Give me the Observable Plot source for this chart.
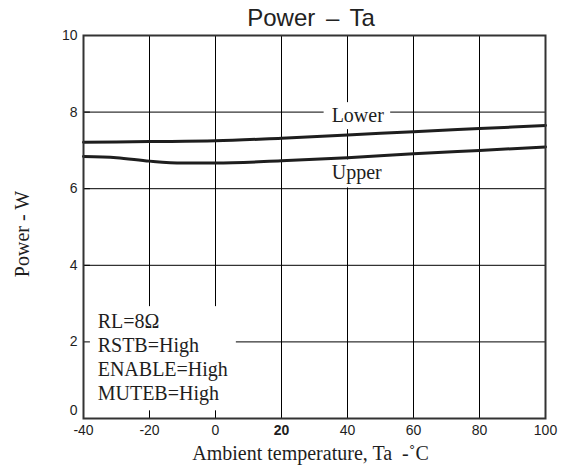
<!DOCTYPE html>
<html><head><meta charset="utf-8">
<script src="https://cdn.jsdelivr.net/npm/d3@7"></script>
<script src="https://cdn.jsdelivr.net/npm/@observablehq/plot@0.6"></script>
<style>
body{margin:0;background:#fff;}
#title{font-family:"Liberation Sans",Arial,sans-serif;font-size:24px;height:27px;line-height:26px;padding-top:5px;padding-left:55px;width:567px;box-sizing:border-box;text-align:center;color:#222;white-space:pre;word-spacing:4px;}
</style>
</head><body>
<div id="title">Power – Ta</div>
<div id="chart"></div>
<script>
const tempTicks = [-40,-20,0,20,40,60,80,100];
const powerTicks = [0,2,4,6,8,10];
const gridX = [-20,0,20,40,60,80];
const gridY = [2,4,6,8];
const lowerT = [-40,-20,0,20,40,60,80,100];
const lowerP = [7.21,7.23,7.25,7.32,7.40,7.49,7.57,7.65];
const upperT = [-40,-30,-20,-10,0,20,40,60,80,100];
const upperP = [6.84,6.81,6.72,6.67,6.67,6.73,6.81,6.91,7.00,7.09];
const curveLabels = ["Lower","Upper"];
const curveLabelT = [43.1,42.8];
const curveLabelP = [7.905,6.41];
const conditions = ["RL=8Ω","RSTB=High","ENABLE=High","MUTEB=High"];
const conditionT = -35.7;
const conditionP = 1.62;
const xLabel = "Ambient temperature, Ta\u00a0\u00a0-˚C";
const yLabel = "Power - W";

const lower = lowerT.map((t,i)=>({t, p: lowerP[i]}));
const upper = upperT.map((t,i)=>({t, p: upperP[i]}));
const lbls = curveLabels.map((s,i)=>({s, t: curveLabelT[i], p: curveLabelP[i]}));

const sans = "Liberation Sans, Arial, sans-serif";
const serif = "Liberation Serif, Times New Roman, serif";
const ink = "#1e1e1e";

const chart = Plot.plot({
  width: 567, height: 441,
  marginLeft: 83, marginRight: 22, marginTop: 8, marginBottom: 50,
  x: {domain: [-40,100]},
  y: {domain: [0,10]},
  style: {background: "white", color: ink},
  marks: [
    Plot.ruleX(gridX, {x: d=>d, stroke: "#000", strokeWidth: 1}),
    Plot.ruleY(gridY, {y: d=>d, stroke: "#000", strokeWidth: 1}),
    Plot.text(lbls, {x: "t", y: "p", text: "s", fontFamily: serif, fontSize: 20, fill: ink}),
    Plot.text([conditions.join("\n")], {x: conditionT, y: conditionP, text: d=>d, textAnchor: "start", lineHeight: 1.2, fontFamily: serif, fontSize: 20, fill: ink}),
    Plot.ruleX(tempTicks, {x: d=>d, y1: 0, y2: 0.2, stroke: "#000"}),
    Plot.ruleY(powerTicks, {y: d=>d, x1: -40, x2: -37.9, stroke: "#000"}),
    Plot.line(lower, {x: "t", y: "p", curve: "monotone-x", stroke: ink, strokeWidth: 3}),
    Plot.line(upper, {x: "t", y: "p", curve: "monotone-x", stroke: ink, strokeWidth: 3}),
    Plot.frame({stroke: "#333", strokeWidth: 2}),
    Plot.axisX({ticks: tempTicks, tickSize: 0, tickPadding: 7, fontSize: 14, fontFamily: sans, label: null, tickFormat: d => String(d)}),
    Plot.axisY({ticks: powerTicks, tickSize: 0, tickPadding: 6, fontSize: 14, fontFamily: sans, label: null, tickFormat: d => String(d)}),
    Plot.text([yLabel], {text: d=>d, frameAnchor: "left", textAnchor: "middle", lineAnchor: "middle", rotate: -90, dx: -61, dy: 7, fontFamily: serif, fontSize: 20, fill: ink}),
    Plot.text([xLabel], {text: d=>d, frameAnchor: "bottom", textAnchor: "middle", lineAnchor: "middle", dx: -4, dy: 35, fontFamily: serif, fontSize: 20, fill: ink})
  ]
});
document.getElementById("chart").append(chart);

// white boxes behind annotation labels
chart.querySelectorAll("text").forEach(t => {
  const c = t.textContent;
  let pad = null;
  if (curveLabels.includes(c)) pad = [8,6,2,3];
  else if (c.startsWith("RL=")) pad = [14,8,4,6];
  if (!pad) return;
  const b = t.getBBox();
  const r = document.createElementNS("http://www.w3.org/2000/svg","rect");
  r.setAttribute("x", b.x - pad[0]);
  r.setAttribute("y", b.y - pad[2]);
  r.setAttribute("width", b.width + pad[0] + pad[1]);
  r.setAttribute("height", b.height + pad[2] + pad[3]);
  r.setAttribute("fill", "white");
  r.setAttribute("stroke", "none");
  if (t.getAttribute("transform")) r.setAttribute("transform", t.getAttribute("transform"));
  t.parentNode.insertBefore(r, t);
});
// bold "20" tick label as in the reference
chart.querySelectorAll('g[aria-label="x-axis tick label"] text').forEach(t => {
  if (t.textContent.trim() === "20") t.setAttribute("font-weight", "bold");
});
// the "0" power label sits slightly above the axis line in the reference
chart.querySelectorAll('g[aria-label="y-axis tick label"] text').forEach(t => {
  if (t.textContent.trim() === "0") {
    const dy = parseFloat(t.getAttribute("dy") || "0");
    t.setAttribute("y", -4);
  }
});
</script>
</body></html>
